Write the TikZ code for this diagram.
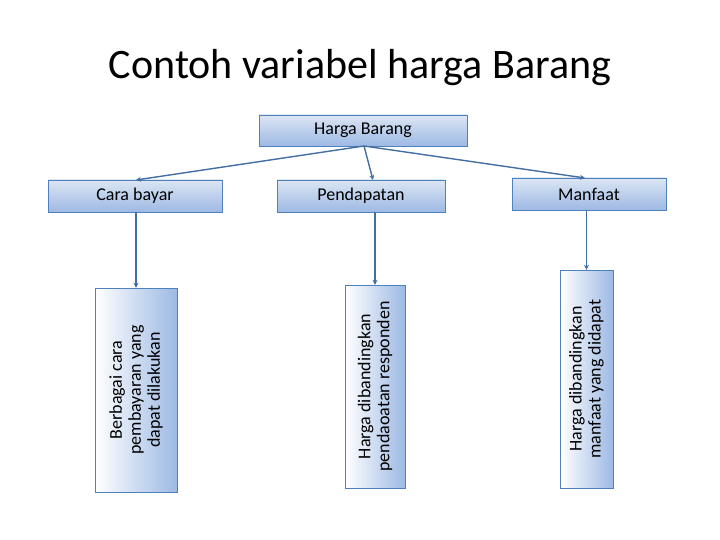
\documentclass[tikz,border=0pt]{standalone}
\usepackage{fontspec}
\setmainfont{Carlito}
\usetikzlibrary{arrows.meta}
\definecolor{edge}{HTML}{4F81BD}
\definecolor{lt}{HTML}{DCE6F4}
\definecolor{dk}{HTML}{9DB9E4}
\begin{document}
\begin{tikzpicture}[x=1pt,y=-1pt,
  bx/.style={draw=edge, top color=lt, bottom color=dk, inner sep=0pt, font=\fontsize{18}{20}\selectfont},
  vb/.style={draw=edge, left color=white, right color=dk, inner sep=0pt},
  vt/.style={rotate=90, align=center, font=\fontsize{18}{19}\selectfont},
  ar/.style={draw=edge!85!black, line width=1.4pt, -{Stealth[length=5pt,width=5pt]}}]
\useasboundingbox (0,0) rectangle (720,540);
\node (t) at (360,68) {\fontsize{42}{48}\selectfont Contoh variabel harga Barang};
\node[bx, minimum width=208pt, minimum height=31pt] (h) at (363,130.5) {Harga Barang};
\node[bx, minimum width=174pt, minimum height=32pt] (c) at (135,196) {Cara bayar};
\node[bx, minimum width=168pt, minimum height=32pt] (p) at (361,196) {Pendapatan};
\node[bx, minimum width=154pt, minimum height=32pt] (m) at (589,194) {Manfaat};
\node[vb, minimum width=82pt, minimum height=204pt] (cv) at (136,390) {};
\node[vt] at (cv.center) {Berbagai cara\\pembayaran yang\\dapat dilakukan};
\node[vb, minimum width=60pt, minimum height=203pt] (pv) at (375,386.5) {};
\node[vt] at (pv.center) {Harga dibandingkan\\pendaoatan responden};
\node[vb, minimum width=53pt, minimum height=218pt] (mv) at (586.5,379) {};
\node[vt] at (mv.center) {Harga dibandingkan\\manfaat yang didapat};
\coordinate (hs) at (364,146);
\draw[ar] (hs) -- (136,180);
\draw[ar] (hs) -- (373,180);
\draw[ar] (hs) -- (585,178);
\draw[ar] (c.south -| cv.north) -- (cv.north);
\draw[ar] (p.south -| pv.north) -- (pv.north);
\draw[ar] (m.south -| mv.north) -- (mv.north);
\end{tikzpicture}
\end{document}
